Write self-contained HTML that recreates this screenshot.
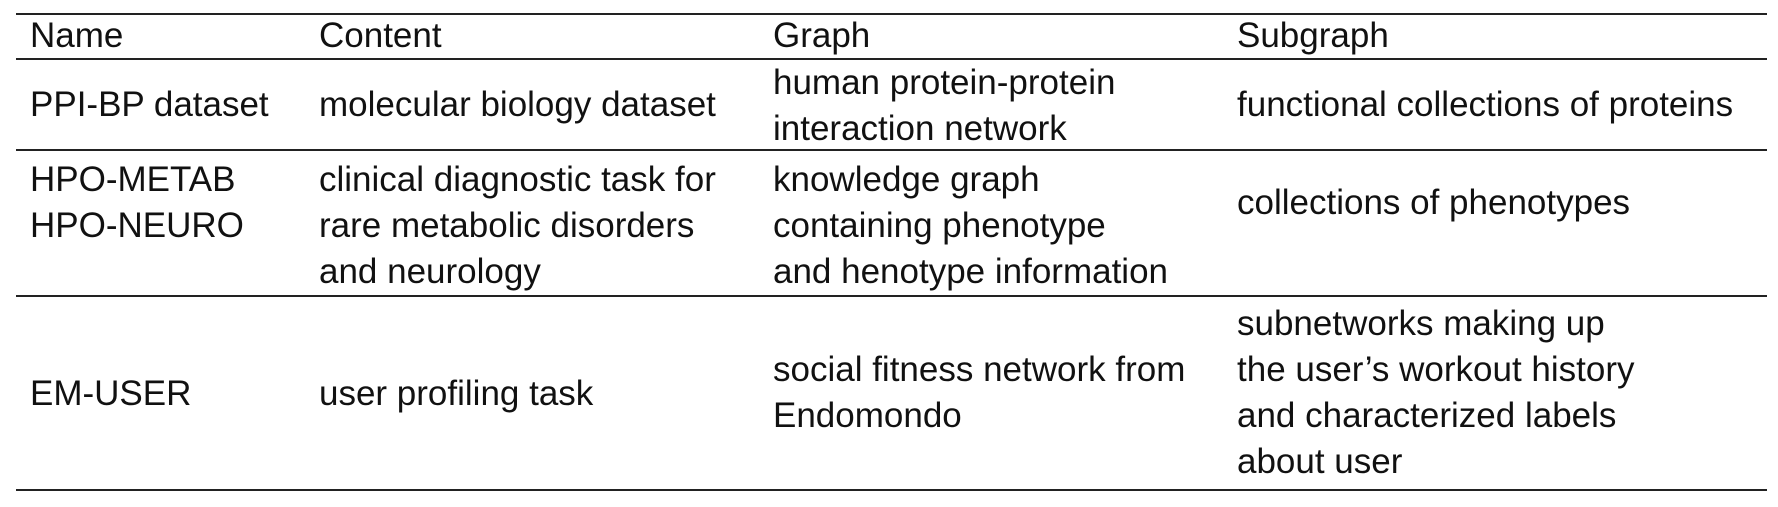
<!DOCTYPE html>
<html><head><style>
body{margin:0;width:1778px;height:507px;background:#fff;position:relative;overflow:hidden;font-family:"Liberation Sans","DejaVu Sans",sans-serif;color:#111;}
.l{position:absolute;left:16px;width:1751px;background:#222;}
.t{position:absolute;font-size:35px;line-height:46px;white-space:nowrap;}
</style></head><body>
<div class="l" style="top:13px;height:2px"></div>
<div class="l" style="top:58px;height:1.5px"></div>
<div class="l" style="top:149px;height:1.5px"></div>
<div class="l" style="top:295px;height:1.5px"></div>
<div class="l" style="top:489px;height:2px"></div>

<div class="t" style="left:30px;top:13px">Name</div>
<div class="t" style="left:319px;top:13px">Content</div>
<div class="t" style="left:773px;top:13px">Graph</div>
<div class="t" style="left:1237px;top:13px">Subgraph</div>

<div class="t" style="left:30px;top:82px">PPI-BP dataset</div>
<div class="t" style="left:319px;top:82px">molecular biology dataset</div>
<div class="t" style="left:773px;top:60px">human protein-protein<br>interaction network</div>
<div class="t" style="left:1237px;top:82px">functional collections of proteins</div>

<div class="t" style="left:30px;top:157px">HPO-METAB<br>HPO-NEURO</div>
<div class="t" style="left:319px;top:157px">clinical diagnostic task for<br>rare metabolic disorders<br>and neurology</div>
<div class="t" style="left:773px;top:157px">knowledge graph<br>containing phenotype<br>and henotype information</div>
<div class="t" style="left:1237px;top:180px">collections of phenotypes</div>

<div class="t" style="left:30px;top:371px">EM-USER</div>
<div class="t" style="left:319px;top:371px">user profiling task</div>
<div class="t" style="left:773px;top:347px">social fitness network from<br>Endomondo</div>
<div class="t" style="left:1237px;top:301px">subnetworks making up<br>the user’s workout history<br>and characterized labels<br>about user</div>
</body></html>
